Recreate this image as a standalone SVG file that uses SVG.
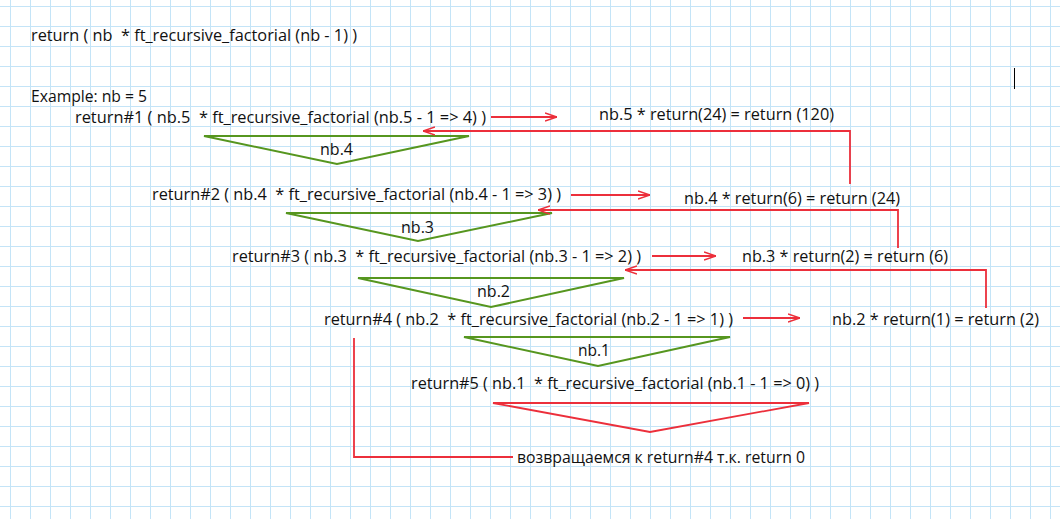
<svg xmlns="http://www.w3.org/2000/svg" width="1060" height="519" viewBox="0 0 1060 519" xml:space="preserve">
<defs>
<pattern id="grid" width="20" height="20" patternUnits="userSpaceOnUse" x="10" y="6">
<path d="M0.5 0V20M0 0.5H20" stroke="#c4e4f7" stroke-width="1" fill="none"/>
</pattern>
<marker id="arr" viewBox="0 0 12 10" refX="12" refY="5" markerWidth="12" markerHeight="10" markerUnits="userSpaceOnUse" orient="auto">
<path d="M0,1 L12,5 L0,9" fill="none" stroke="#ec2f3b" stroke-width="1.6"/>
</marker>
<style>
text{font-family:"Open Sans",Lato,"Liberation Sans",sans-serif;font-size:16px;fill:#111;white-space:pre}
.g{fill:none;stroke:#56961f;stroke-width:2}
.r{fill:none;stroke:#ec2f3b;stroke-width:1.8}
</style>
</defs>
<rect width="1060" height="519" fill="#fff"/>
<rect width="1060" height="519" fill="url(#grid)"/>
<line x1="1014.5" y1="68" x2="1014.5" y2="89" stroke="#000" stroke-width="1"/>

<g id="formula"><text x="31" y="41" textLength="326" lengthAdjust="spacingAndGlyphs">return ( nb  * ft_recursive_factorial (nb - 1) )</text></g>
<g id="example"><text x="31" y="102" textLength="116" lengthAdjust="spacingAndGlyphs">Example: nb = 5</text></g>

<g id="call1"><text x="75" y="123" textLength="411" lengthAdjust="spacingAndGlyphs">return#1 ( nb.5  * ft_recursive_factorial (nb.5 - 1 =&gt; 4) )</text></g>
<g id="res1"><text x="599" y="120" textLength="235" lengthAdjust="spacingAndGlyphs">nb.5 * return(24) = return (120)</text></g>
<g id="tri1"><polygon class="g" points="204,136 469,136 337,164"/><text x="320" y="155" textLength="33" lengthAdjust="spacingAndGlyphs">nb.4</text></g>

<g id="call2"><text x="152" y="200" textLength="409" lengthAdjust="spacingAndGlyphs">return#2 ( nb.4  * ft_recursive_factorial (nb.4 - 1 =&gt; 3) )</text></g>
<g id="res2"><text x="684" y="204" textLength="216" lengthAdjust="spacingAndGlyphs">nb.4 * return(6) = return (24)</text></g>
<g id="tri2"><polygon class="g" points="286,213 552,213 418,241"/><text x="401" y="233" textLength="33" lengthAdjust="spacingAndGlyphs">nb.3</text></g>

<g id="call3"><text x="232" y="262" textLength="409" lengthAdjust="spacingAndGlyphs">return#3 ( nb.3  * ft_recursive_factorial (nb.3 - 1 =&gt; 2) )</text></g>
<g id="res3"><text x="742" y="262" textLength="206" lengthAdjust="spacingAndGlyphs">nb.3 * return(2) = return (6)</text></g>
<g id="tri3"><polygon class="g" points="358,278 624,278 491,307"/><text x="477" y="297" textLength="33" lengthAdjust="spacingAndGlyphs">nb.2</text></g>

<g id="call4"><text x="324" y="325" textLength="409" lengthAdjust="spacingAndGlyphs">return#4 ( nb.2  * ft_recursive_factorial (nb.2 - 1 =&gt; 1) )</text></g>
<g id="res4"><text x="832" y="325" textLength="207" lengthAdjust="spacingAndGlyphs">nb.2 * return(1) = return (2)</text></g>
<g id="tri4"><polygon class="g" points="464,337 730,337 598,366"/><text x="578" y="356" textLength="32" lengthAdjust="spacingAndGlyphs">nb.1</text></g>

<g id="call5"><text x="411" y="389" textLength="408" lengthAdjust="spacingAndGlyphs">return#5 ( nb.1  * ft_recursive_factorial (nb.1 - 1 =&gt; 0) )</text></g>
<g id="tri5"><polygon class="r" points="493,403 809,403 650,432"/></g>

<g id="note"><text x="517" y="463" textLength="288" lengthAdjust="spacingAndGlyphs">возвращаемся к return#4 т.к. return 0</text></g>

<g id="connectors">
<path class="r" d="M491,117 H557" marker-end="url(#arr)"/>
<path class="r" d="M571,195 H650" marker-end="url(#arr)"/>
<path class="r" d="M652,256 H716" marker-end="url(#arr)"/>
<path class="r" d="M743,318 H800" marker-end="url(#arr)"/>
<path class="r" d="M850,184 V131 H423" marker-end="url(#arr)"/>
<path class="r" d="M898,248 V210 H538" marker-end="url(#arr)"/>
<path class="r" d="M986,308 V270 H625" marker-end="url(#arr)"/>
<path class="r" d="M354,338 V457 H513"/>
</g>
</svg>
